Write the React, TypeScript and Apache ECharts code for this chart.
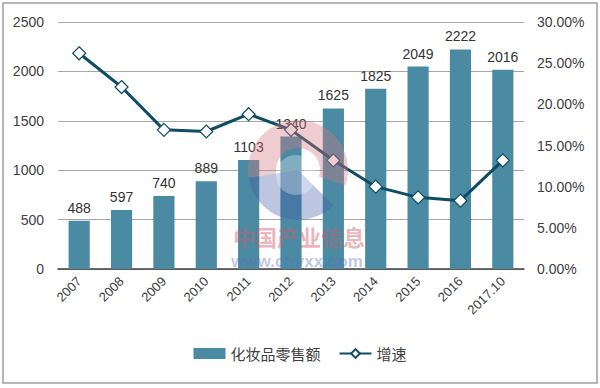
import React, { useEffect, useRef } from "react";
import * as echarts from "echarts";

const categories = ["2007", "2008", "2009", "2010", "2011", "2012", "2013", "2014", "2015", "2016", "2017.10"];
const salesValues = [488, 597, 740, 889, 1103, 1340, 1625, 1825, 2049, 2222, 2016];
const growthValues = [0.262, 0.221, 0.169, 0.167, 0.188, 0.169, 0.132, 0.100, 0.087, 0.083, 0.132];
const leftTicks = { min: 0, max: 2500, interval: 500 };
const rightTicks = { min: 0, max: 0.3, interval: 0.05 };
const seriesNames = ["化妆品零售额", "增速"];

const BAR = "#4a8ba3";
const LINE = "#0e4d63";
const NUM_FONT = "'Liberation Sans', Arial, sans-serif";
const CJK_FONT = "'Noto Sans CJK SC', sans-serif";

export default function App() {
  const ref = useRef<HTMLDivElement>(null);
  useEffect(() => {
    if (!ref.current) return;
    const chart = echarts.init(ref.current, undefined, { renderer: "svg" });
    const wm = { silent: true, z: 100, zlevel: 0 };
    chart.setOption({
      animation: false,
      backgroundColor: "#fff",
      grid: { left: 58, right: 76, top: 22, bottom: 119, containLabel: false },
      legend: {
        bottom: 22,
        left: "center",
        itemGap: 18,
        itemWidth: 32,
        itemHeight: 11,
        textStyle: { fontFamily: CJK_FONT, fontSize: 15, color: "#404040" },
        data: [
          { name: seriesNames[0], icon: "rect" },
          { name: seriesNames[1] },
        ],
      },
      xAxis: {
        type: "category",
        data: categories,
        axisLine: { lineStyle: { color: "#404040", width: 1.5 } },
        axisTick: { show: false },
        axisLabel: {
          rotate: 45,
          interval: 0,
          fontFamily: NUM_FONT,
          fontSize: 13,
          color: "#404040",
          margin: 10,
        },
      },
      yAxis: [
        {
          type: "value",
          ...leftTicks,
          axisLine: { show: false },
          axisTick: { show: false },
          splitLine: { lineStyle: { color: "#a6a6a6", width: 1 } },
          axisLabel: {
            fontFamily: NUM_FONT,
            fontSize: 14,
            color: "#404040",
            margin: 14,
            formatter: (v: number) => String(v),
          },
        },
        {
          type: "value",
          ...rightTicks,
          position: "right",
          axisLine: { show: false },
          axisTick: { show: false },
          splitLine: { show: false },
          axisLabel: {
            fontFamily: NUM_FONT,
            fontSize: 14,
            color: "#404040",
            margin: 13,
            formatter: (v: number) => (v * 100).toFixed(2) + "%",
          },
        },
      ],
      graphic: [
        {
          type: "rect",
          shape: { x: 3, y: 3, width: 594, height: 380 },
          style: { fill: "none", stroke: "#a0a0a0", lineWidth: 1.5 },
          silent: true,
          z: -10,
        },
        {
          type: "sector",
          ...wm,
          shape: { cx: 298, cy: 170, r0: 22, r: 50, startAngle: -Math.PI * 1.05, endAngle: Math.PI * 0.1 },
          style: { fill: "rgba(214,120,130,0.38)" },
        },
        {
          type: "sector",
          ...wm,
          shape: { cx: 298, cy: 170, r0: 0, r: 50, startAngle: Math.PI * 0.25, endAngle: Math.PI * 0.95 },
          style: { fill: "rgba(70,90,170,0.35)" },
        },
        {
          type: "circle",
          ...wm,
          shape: { cx: 296, cy: 175, r: 20 },
          style: { fill: "rgba(255,255,255,0.3)" },
        },
        {
          type: "text",
          ...wm,
          x: 299,
          y: 236,
          style: {
            text: "中国产业信息",
            fontFamily: CJK_FONT,
            fontSize: 22,
            fontWeight: "bold",
            fill: "rgba(210,90,100,0.45)",
            align: "center",
            verticalAlign: "middle",
          },
        },
        {
          type: "text",
          ...wm,
          x: 297,
          y: 261,
          style: {
            text: "www.chyxx.com",
            fontFamily: NUM_FONT,
            fontSize: 17,
            fontWeight: "bold",
            fill: "rgba(90,110,190,0.4)",
            align: "center",
            verticalAlign: "middle",
          },
        },
      ],
      series: [
        {
          name: seriesNames[0],
          type: "bar",
          data: salesValues,
          barWidth: "50%",
          itemStyle: { color: BAR },
          label: {
            show: true,
            position: "top",
            distance: 6,
            fontFamily: NUM_FONT,
            fontSize: 14,
            color: "#333",
          },
        },
        {
          name: seriesNames[1],
          type: "line",
          yAxisIndex: 1,
          data: growthValues,
          symbol: "diamond",
          symbolSize: 13,
          lineStyle: { color: LINE, width: 3 },
          itemStyle: { color: "#fff", borderColor: LINE, borderWidth: 1.2 },
          z: 5,
        },
      ],
    });
    return () => chart.dispose();
  }, []);
  return (
    <div
      ref={ref}
      style={{ position: "fixed", left: 0, top: 0, width: 600, height: 388 }}
    />
  );
}
